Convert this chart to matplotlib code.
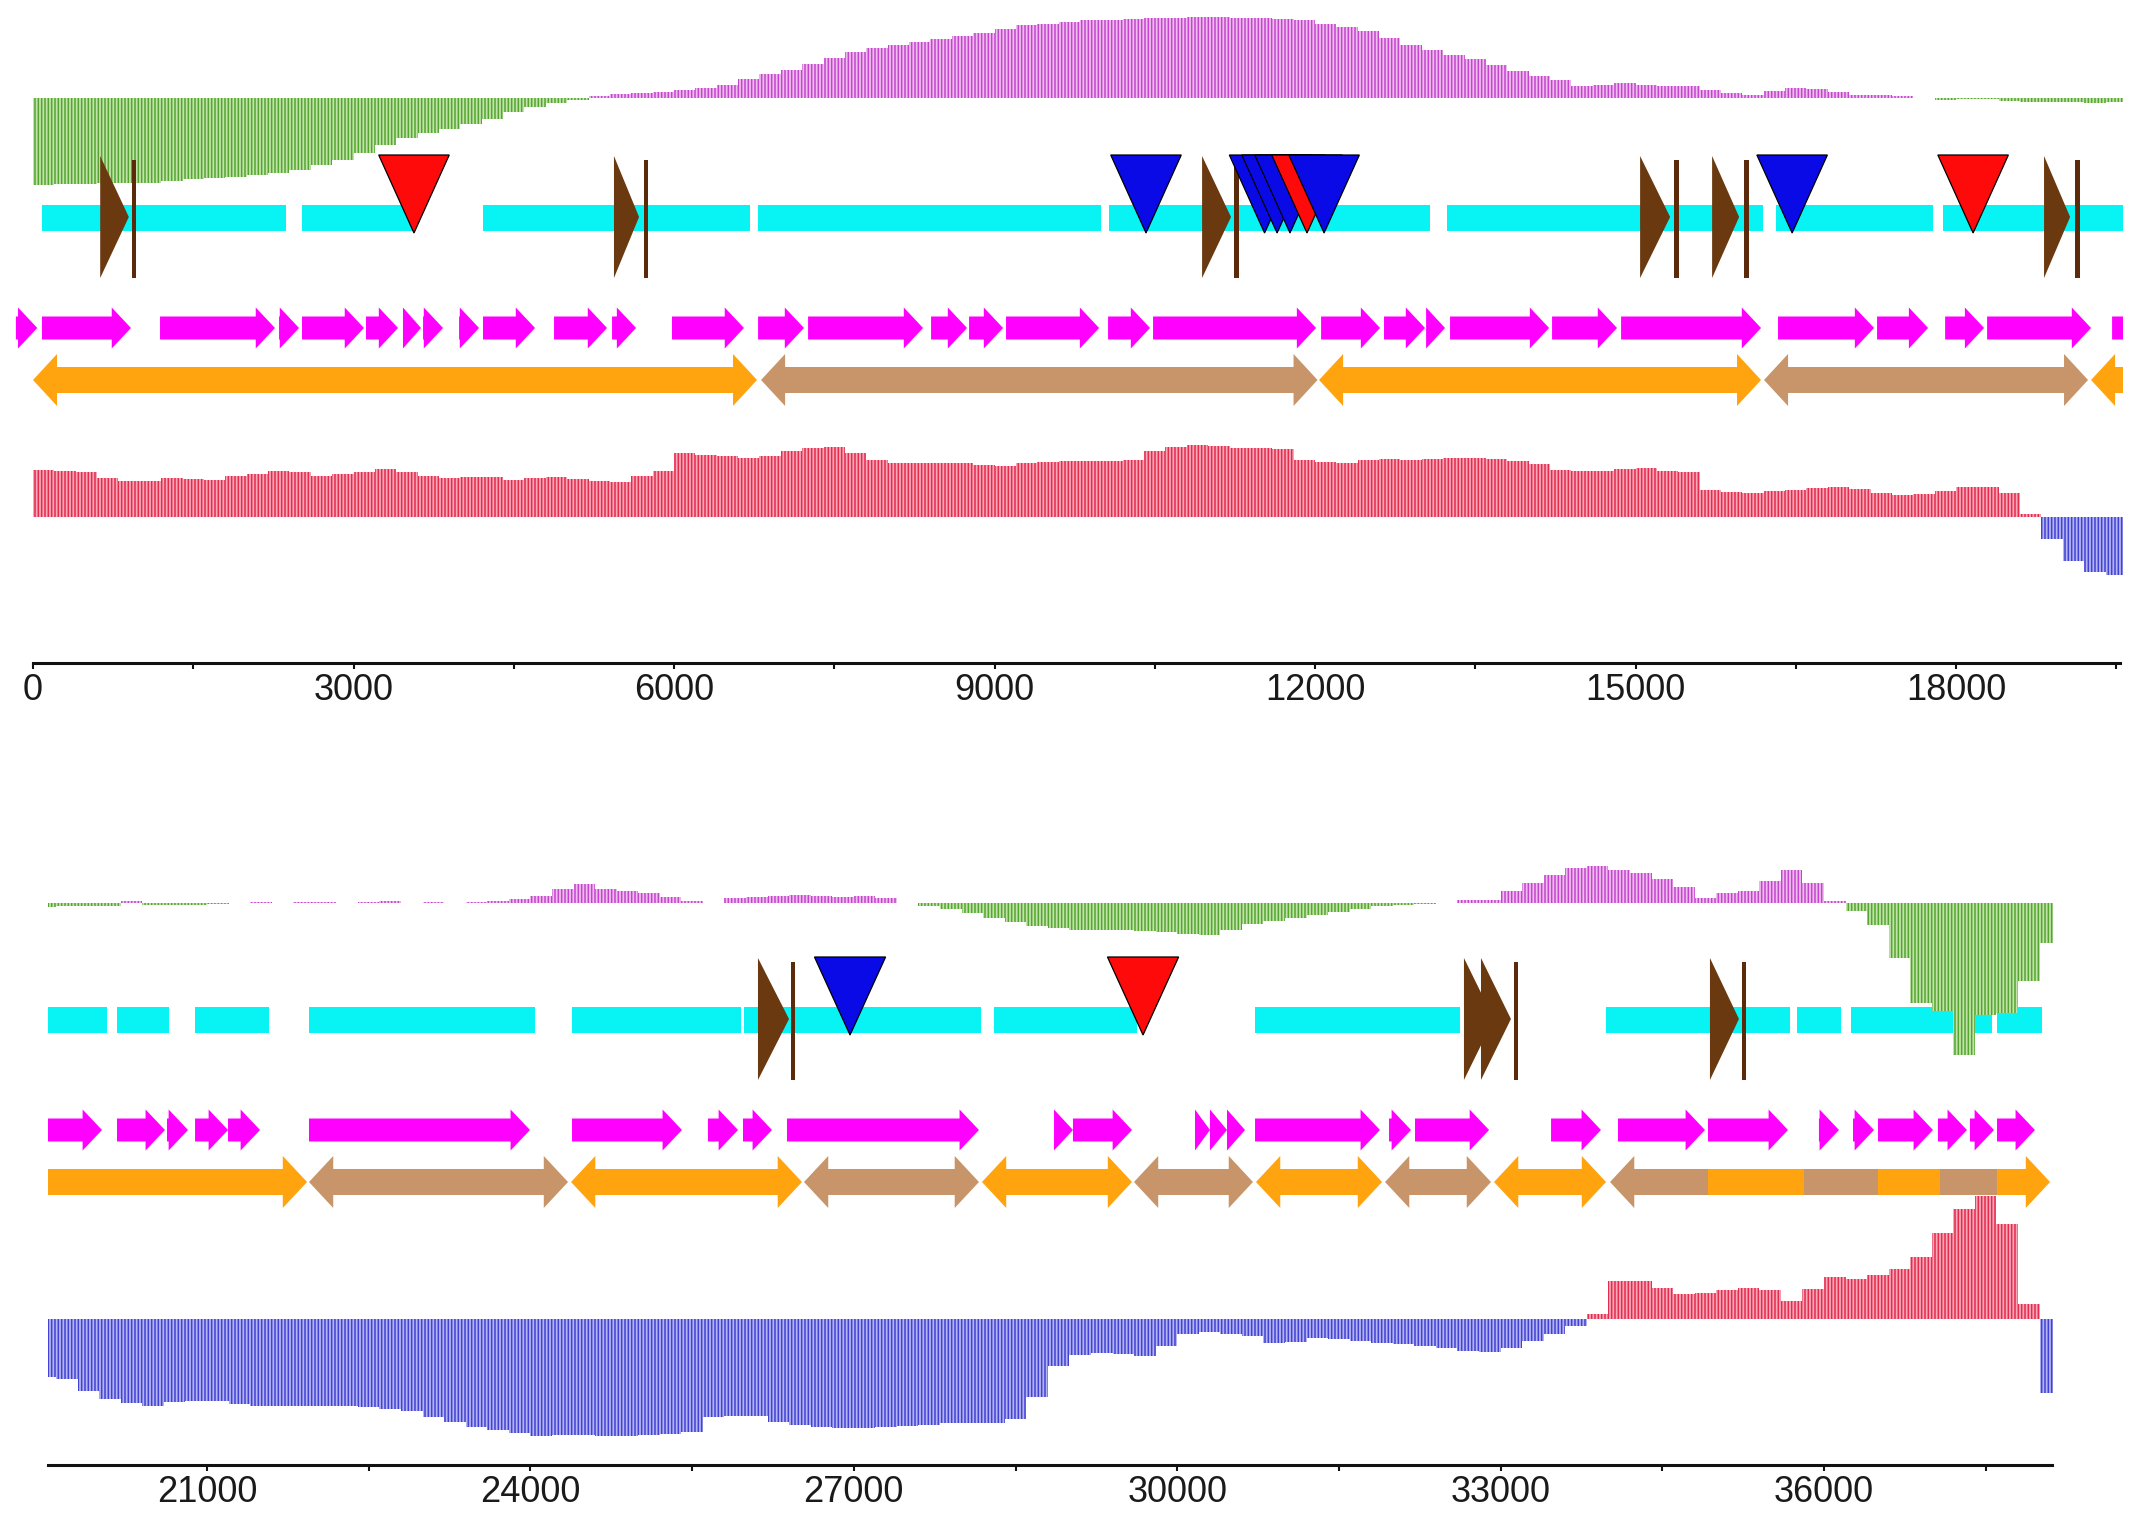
#!/usr/bin/env python3
# Genome map of a ~38 kb element drawn in two rows

import matplotlib
matplotlib.use('Agg')
import matplotlib.pyplot as plt
from matplotlib.patches import Polygon, Rectangle
from matplotlib import font_manager

W, H = 2133, 1521
BIN = 200  # bp per skew window, window i starts at i*BIN

# GC skew per window (positive = purple, negative = green)
gc_skew = [
    -87, -86, -86, -85, -85,  -85, -83, -81, -80, -79,
    -77, -75, -72, -67, -62,  -55, -47, -40, -35, -31,
    -26, -21, -14, -9, -5,    -2, 2, 4, 5, 6,
    8, 10, 13, 19, 24,        28, 34, 40, 46, 50,
    53, 56, 59, 62, 65,       69, 73, 74, 76, 78,
    78, 79, 80, 80, 81,       81, 80, 80, 79, 78,
    74, 71, 67, 60, 53,       48, 43, 39, 33, 27,
    22, 18, 12, 13, 15,       13, 12, 12, 8, 5,
    3, 7, 10, 9, 6,           3, 3, 2, 0, -2,
    -1, -1, -3, -4, -4,       -4, -5, -4, -3, -3,
    -3, 2, -2, -2, -2,        -1, 0, 1, 0, 1,
    1, 0, 1, 2, 0,            1, 0, 1, 2, 4,
    7, 14, 19, 14, 12,        10, 6, 2, 0, 5,
    6, 7, 8, 7, 6,            7, 5, 0, -3, -6,
    -10, -15, -19, -23, -25,  -27, -27, -27, -28, -29,
    -31, -32, -27, -21, -18,  -15, -12, -9, -6, -3,
    -2, -1, 0, 3, 3,          12, 20, 28, 35, 37,
    33, 30, 24, 16, 5,        10, 12, 22, 33, 20,
    2, -8, -22, -55, -100,    -108, -152, -112, -110, -78,
    -40,
]

# second skew track per window (positive = red, negative = blue)
at_skew = [
    47, 46, 45, 39, 36,       36, 39, 38, 37, 41,
    43, 46, 45, 41, 43,       45, 48, 45, 41, 39,
    40, 40, 37, 39, 40,       38, 36, 35, 41, 46,
    64, 62, 61, 59, 61,       66, 69, 70, 64, 57,
    54, 54, 54, 54, 52,       51, 54, 55, 56, 56,
    56, 57, 66, 70, 72,       71, 69, 69, 68, 57,
    55, 54, 57, 58, 57,       58, 59, 59, 58, 56,
    53, 47, 46, 46, 48,       49, 46, 45, 27, 25,
    24, 26, 27, 29, 30,       28, 24, 22, 23, 26,
    30, 30, 24, 3, -22,       -44, -55, -58, -60, -72,
    -80, -84, -87, -83, -82,  -82, -85, -87, -87, -87,
    -87, -87, -88, -90, -92,  -98, -103, -108, -111, -114,
    -117, -116, -116, -117, -117,  -116, -115, -113, -98, -97,
    -97, -103, -106, -108, -109,   -109, -108, -107, -106, -104,
    -104, -104, -100, -78, -47,    -36, -34, -35, -37, -27,
    -15, -13, -15, -17, -24,  -23, -19, -20, -22, -24,
    -25, -27, -29, -32, -33,  -29, -22, -15, -7, 5,
    38, 38, 31, 25, 26,       29, 31, 29, 18, 30,
    42, 40, 44, 50, 62,       86, 110, 123, 95, 15,
    -74,
]

# forward genes (start, end)
genes = [
    (-160, 40), (84, 917), (1189, 2265), (2303, 2490), (2518, 3098),
    (3117, 3417), (3463, 3632), (3651, 3838), (3988, 4175), (4212, 4699),
    (4877, 5373), (5420, 5645), (5981, 6655), (6787, 7217), (7255, 8331),
    (8406, 8743), (8762, 9080), (9108, 9979), (10063, 10456), (10484, 12010),
    (12057, 12609), (12646, 13030), (13040, 13217), (13264, 14191), (14219, 14827),
    (14865, 16175), (16334, 17233), (17261, 17739), (17898, 18263), (18291, 19264),
    (19461, 20026), (20165, 20610), (20629, 20824), (20889, 21195), (21195, 21492),
    (21946, 23996), (24386, 25406), (25647, 25926), (25972, 26241), (26380, 28161),
    (28857, 29033), (29033, 29581), (30165, 30304), (30304, 30462), (30462, 30629),
    (30722, 31881), (31965, 32169), (32206, 32893), (33468, 33931), (34089, 34896),
    (34924, 35666), (35953, 36139), (36269, 36464), (36501, 37011), (37057, 37326),
    (37354, 37577), (37605, 37957),
]

# blocks on the lower double-arrow row (start, end, kind, heads)
islands = [
    (0, 6777, 'orange', 'both'), (6815, 12024, 'tan', 'both'),
    (12038, 16175, 'orange', 'both'), (16203, 19236, 'tan', 'both'),
    (19264, 21928, 'orange', 'both'), (21946, 24349, 'tan', 'both'),
    (24377, 26519, 'orange', 'both'), (26538, 28161, 'tan', 'both'),
    (28189, 29581, 'orange', 'both'), (29599, 30703, 'tan', 'both'),
    (30731, 31900, 'orange', 'both'), (31928, 32911, 'tan', 'both'),
    (32939, 33978, 'orange', 'both'), (34015, 34924, 'tan', 'left'),
    (34924, 35815, 'orange', 'none'), (35815, 36501, 'tan', 'none'),
    (36501, 37076, 'orange', 'none'), (37076, 37605, 'tan', 'none'),
    (37605, 38097, 'orange', 'right'),
]

# cyan aligned regions (start, end)
blocks = [
    (84, 2368), (2518, 3576), (4212, 6712), (6787, 9997), (10072, 13077),
    (13236, 16194), (16316, 17786), (17879, 20072), (20165, 20647),
    (20889, 21575), (21946, 24043), (24386, 25953), (25981, 28180),
    (28301, 29627), (30722, 32624), (33978, 35685), (35750, 36158),
    (36250, 37560), (37605, 38022),
]

# repeat elements: triangle (base, tip) and end marks
repeat_tri = [
    (629, 897), (5438, 5673), (10943, 11214), (15043, 15324), (15717, 15970),
    (18824, 19068), (26111, 26399), (32660, 32938), (32818, 33096), (34942, 35211),
]
repeat_bar = [945, 5738, 11261, 15380, 16035, 19133, 26436, 33143, 35258]

# insertion sites (position, kind) in drawing order
inserts = [
    (3566, 'red'), (10418, 'blue'), (11528, 'blue'), (11645, 'blue'),
    (11766, 'blue'), (11925, 'red'), (12085, 'blue'), (16466, 'blue'),
    (18160, 'red'), (26965, 'blue'), (29683, 'red'),
]

COL = {
    'orange': '#ffa30f', 'tan': '#c8956a', 'red': '#ff0a0a', 'blue': '#0a0ae6',
    'gene': '#ff00ff', 'block': '#08f4f4', 'repeat': '#6b3910', 'bar': '#5a2a0a',
}
# skew bars: (light fill, stripe colour)
GREEN = ('#c2e4ab', '#55a630')
PURPLE = ('#efbdef', '#c445cd')
RED = ('#f8a8b8', '#e42c4c')
BLUE = ('#b4b4f2', '#4242d4')

# two rows: genome span of the axis line and its pixel span, row top in px
rows = [
    dict(lo=0, hi=19535, px0=33, px1=2120, top=0, xmin=-200, xmax=19560, gc0=98),
    dict(lo=19525, hi=38115, px0=48, px1=2052, top=802, xmin=19525, xmax=38120, gc0=101),
]

avail = {f.name for f in font_manager.fontManager.ttflist}
if 'Liberation Sans Narrow' in avail:
    tick_font, tick_size = 'Liberation Sans Narrow', 29
else:
    tick_font, tick_size = 'Liberation Sans', 26

plt.rcParams['hatch.linewidth'] = 1.1
fig = plt.figure(figsize=(W / 100, H / 100), dpi=100)


def add_ax(left, right, top, bottom, z):
    ax = fig.add_axes([left / W, 1 - bottom / H, (right - left) / W, (bottom - top) / H], zorder=z)
    ax.patch.set_alpha(0)
    return ax


def arrow(ax, s, e, yc, bh, hh, hl, left, right, color, z=3):
    hl = min(hl, (e - s) / (2 if (left and right) else 1))
    pts = []
    if left:
        pts += [(s, yc), (s + hl, yc - hh / 2), (s + hl, yc - bh / 2)]
    else:
        pts += [(s, yc - bh / 2)]
    if right:
        pts += [(e - hl, yc - bh / 2), (e - hl, yc - hh / 2), (e, yc),
                (e - hl, yc + hh / 2), (e - hl, yc + bh / 2)]
    else:
        pts += [(e, yc - bh / 2), (e, yc + bh / 2)]
    if left:
        pts += [(s + hl, yc + bh / 2), (s + hl, yc + hh / 2)]
    else:
        pts += [(s, yc + bh / 2)]
    ax.add_patch(Polygon(pts, closed=True, facecolor=color, edgecolor='none', zorder=z))


def skew_bars(ax, xs, vals, pos, neg):
    for x, v in zip(xs, vals):
        face, line = pos if v > 0 else neg
        ax.bar(x, v, width=BIN, align='edge', color=face, edgecolor=line,
               linewidth=0, hatch='|||||')


for r in rows:
    scale = (r['px1'] - r['px0']) / (r['hi'] - r['lo'])
    left = r['px0'] + (r['xmin'] - r['lo']) * scale
    right = r['px0'] + (r['xmax'] - r['lo']) * scale
    top = r['top']
    in_row = lambda a, b: b > r['xmin'] and a < r['xmax']

    # base layer: cyan regions and the coordinate axis
    base = add_ax(left, right, top, top + 663, 1)
    base.set_xlim(r['xmin'], r['xmax'])
    base.set_ylim(663, 0)
    for s, e in blocks:
        if in_row(s, e):
            base.add_patch(Rectangle((s, 205), e - s, 26, facecolor=COL['block'], edgecolor='none'))
    for side in ['top', 'left', 'right']:
        base.spines[side].set_visible(False)
    base.spines['bottom'].set_linewidth(2.2)
    base.spines['bottom'].set_color('#111111')
    base.spines['bottom'].set_bounds(r['lo'], r['hi'])
    base.set_yticks([])
    base.tick_params(axis='x', which='both', direction='out', length=4.5, width=1.5,
                     color='#111111', pad=3)
    base.tick_params(axis='x', which='major', labelsize=tick_size, labelcolor='#1a1a1a')
    ticks = [t for t in range(0, 39001, 3000) if r['lo'] <= t <= r['hi']]
    base.set_xticks(ticks)
    base.set_xticklabels([str(t) for t in ticks], fontfamily=tick_font)
    base.set_xticks([t for t in range(1500, 39001, 3000) if r['lo'] <= t <= r['hi']], minor=True)

    # windowed skew tracks
    idx = [i for i in range(len(gc_skew)) if i * BIN + BIN > r['lo'] and i * BIN < r['hi']]
    xs = [i * BIN for i in idx]

    gc = add_ax(left, right, top + 5, top + 270, 2)
    gc.set_xlim(r['xmin'], r['xmax'])
    gc.set_ylim(r['gc0'] - 270, r['gc0'] - 5)
    skew_bars(gc, xs, [gc_skew[i] for i in idx], PURPLE, GREEN)
    gc.axis('off')

    at = add_ax(left, right, top + 380, top + 660, 2)
    at.set_xlim(r['xmin'], r['xmax'])
    at.set_ylim(517 - 660, 517 - 380)
    skew_bars(at, xs, [at_skew[i] for i in idx], RED, BLUE)
    at.axis('off')

    # feature layer on top
    ft = add_ax(left, right, top, top + 663, 3)
    ft.set_xlim(r['xmin'], r['xmax'])
    ft.set_ylim(663, 0)
    ft.axis('off')

    for s, e in genes:
        if in_row(s, e):
            arrow(ft, s, e, 328, 23, 41, 180, False, True, COL['gene'])
    for s, e, kind, heads in islands:
        if in_row(s, e):
            arrow(ft, s, e, 380, 26, 52, 225, heads in ('both', 'left'),
                  heads in ('both', 'right'), COL[kind])
    for b, t in repeat_tri:
        if in_row(b, t):
            ft.add_patch(Polygon([(b, 156), (t, 217), (b, 278)], closed=True,
                                 facecolor=COL['repeat'], edgecolor='none', zorder=4))
    for p in repeat_bar:
        if in_row(p, p):
            ft.add_patch(Rectangle((p - 22, 160), 45, 118, facecolor=COL['bar'],
                                   edgecolor='none', zorder=4))
    for p, kind in inserts:
        if in_row(p, p):
            ft.add_patch(Polygon([(p - 330, 155), (p + 330, 155), (p, 233)], closed=True,
                                 facecolor=COL[kind], edgecolor='black', linewidth=0.9,
                                 zorder=5))

fig.savefig('out.png', dpi=100, facecolor='white')
